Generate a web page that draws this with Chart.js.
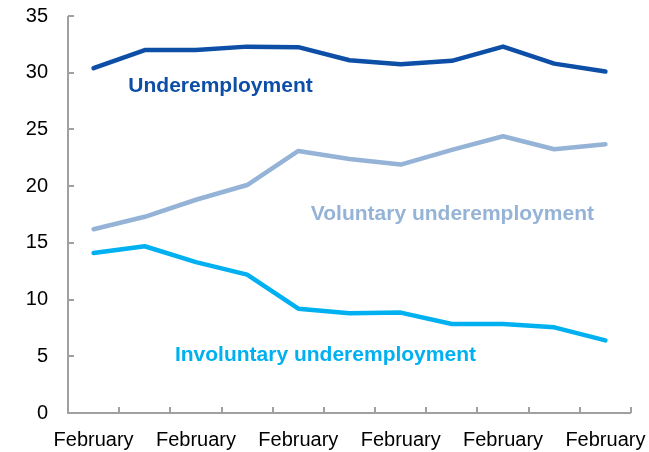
<!DOCTYPE html>
<html>
<head>
<meta charset="utf-8">
<script src="https://cdn.jsdelivr.net/npm/chart.js@4.4.1/dist/chart.umd.min.js"></script>
<style>
  html, body { margin: 0; padding: 0; background: #ffffff; }
  #wrap { width: 649px; height: 452px; position: relative; }
</style>
</head>
<body>
<div id="wrap"><canvas id="c" width="649" height="452"></canvas></div>
<script>
// ---- data ----
const categories = ["February", "", "February", "", "February", "", "February", "", "February", "", "February"];
const underemployment = [30.4, 32.0, 32.0, 32.3, 32.25, 31.1, 30.75, 31.05, 32.3, 30.8, 30.1];
const voluntary = [16.2, 17.3, 18.8, 20.1, 23.1, 22.4, 21.9, 23.2, 24.4, 23.25, 23.7];
const involuntary = [14.1, 14.7, 13.3, 12.2, 9.2, 8.8, 8.85, 7.85, 7.85, 7.55, 6.4];
const yTicks = [0, 5, 10, 15, 20, 25, 30, 35];
// series labels: [text, category position, value position]
const seriesLabels = [
  ["Underemployment", 2.48, 28.8],
  ["Voluntary underemployment", 7.01, 17.55],
  ["Involuntary underemployment", 4.53, 5.1]
];

const colors = ["#0D4EA6", "#95B3D7", "#00B0F0"];
const axisColor = "#A0A0A0";

const innerTicks = {
  id: "innerTicks",
  afterDraw(chart) {
    const ctx = chart.ctx;
    const x = chart.scales.x, y = chart.scales.y;
    const ca = chart.chartArea;
    ctx.save();
    ctx.strokeStyle = axisColor;
    ctx.lineWidth = 2;
    ctx.beginPath();
    ctx.moveTo(ca.left, ca.top);
    ctx.lineTo(ca.left, ca.bottom);
    ctx.lineTo(ca.right, ca.bottom);
    ctx.stroke();
    ctx.beginPath();
    yTicks.forEach(v => {
      const py = Math.round(y.getPixelForValue(v));
      ctx.moveTo(ca.left, py);
      ctx.lineTo(ca.left + 6, py);
    });
    for (let i = 1; i <= categories.length; i++) {
      const px = Math.round(x.getPixelForValue(i - 0.5));
      ctx.moveTo(px, ca.bottom);
      ctx.lineTo(px, ca.bottom - 6);
    }
    ctx.stroke();
    ctx.font = "bold 21px 'Liberation Sans', Arial, sans-serif";
    ctx.textAlign = "center";
    ctx.textBaseline = "middle";
    seriesLabels.forEach((s, i) => {
      ctx.fillStyle = colors[i];
      ctx.fillText(s[0], x.getPixelForValue(s[1]), y.getPixelForValue(s[2]));
    });
    ctx.restore();
  }
};

const mk = (label, data, color) => ({
  label, data,
  borderColor: color,
  backgroundColor: color,
  borderWidth: 4.5,
  pointRadius: 0,
  tension: 0,
  fill: false,
  borderJoinStyle: "round",
  borderCapStyle: "round"
});

new Chart(document.getElementById("c"), {
  type: "line",
  data: {
    labels: categories,
    datasets: [
      mk("Underemployment", underemployment, colors[0]),
      mk("Voluntary underemployment", voluntary, colors[1]),
      mk("Involuntary underemployment", involuntary, colors[2])
    ]
  },
  options: {
    responsive: false,
    animation: false,
    devicePixelRatio: 1,
    layout: { autoPadding: false, padding: { top: 16, right: 18, bottom: 0, left: 0 } },
    plugins: { legend: { display: false }, tooltip: { enabled: false } },
    scales: {
      x: {
        type: "category",
        offset: true,
        afterFit(scale) { scale.height = 39; scale.paddingLeft = 0; scale.paddingRight = 0; },
        grid: { display: false, drawTicks: false },
        border: { display: false },
        ticks: {
          autoSkip: false,
          maxRotation: 0,
          padding: 15,
          color: "#000000",
          font: { family: "'Liberation Sans', Arial, sans-serif", size: 20 }
        }
      },
      y: {
        min: 0, max: 35,
        afterFit(scale) { scale.width = 68; scale.paddingTop = 0; scale.paddingBottom = 0; },
        grid: { display: false, drawTicks: false },
        border: { display: false },
        ticks: {
          stepSize: 5,
          padding: 20,
          color: "#000000",
          font: { family: "'Liberation Sans', Arial, sans-serif", size: 20 }
        }
      }
    }
  },
  plugins: [innerTicks]
});
</script>
</body>
</html>
